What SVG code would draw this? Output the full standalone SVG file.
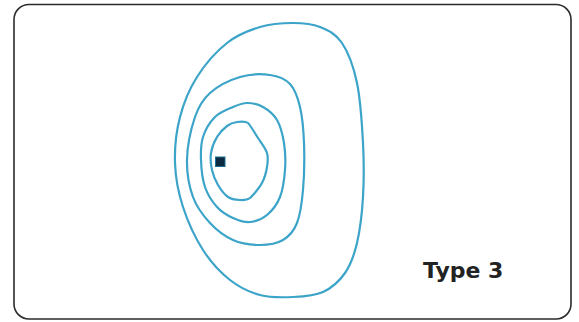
<svg xmlns="http://www.w3.org/2000/svg" width="579" height="322" viewBox="0 0 579 322">
<style>
.frame{fill:#ffffff;stroke:#2b2b2b;stroke-width:1.6}
.contour{fill:none;stroke:#3ba4c8;stroke-width:2.2;stroke-linejoin:round}
.label{font-family:"DejaVu Sans",Verdana,sans-serif;font-weight:bold;font-size:22px;fill:#222222}
</style>
<rect width="579" height="322" fill="#ffffff"/>
<g id="frame"><rect class="frame" x="14" y="4.5" width="557" height="314.5" rx="15" ry="15"/></g>
<g id="contours">
<path id="c1" class="contour" d="M293,23 C303,23 311.8,23.7 320,27 S335.8,33.7 342,43 S353.5,66.3 357,83 S362,124 363,143 S364,180.3 363,197 S360,230.3 357,243 S350.7,264.8 345,273 S331.7,288 323,292 S303.5,296.5 293,297 S270.5,297.8 260,295 S239.5,287.5 230,280 S210.8,262.2 203,250 S187.7,221.5 183,207 S175.5,178 175,163 S176.3,131.3 180,117 S189.2,89.3 197,77 S216.5,51.3 227,43 S249,30.3 260,27 S283,23 293,23 Z"/>
<path id="c2" class="contour" d="M270,75 C278.3,76.2 285,78.7 290,84 S297.7,97.2 300,107 S303.5,129.2 304,143 S304.2,176.7 303,190 S300.3,214.7 297,223 S289.2,236.3 283,240 S268.3,245 260,245 S241.3,243.7 233,240 S216.7,230.2 210,223 S196.8,207.5 193,197 S186.7,173.3 187,160 S191.2,128.2 195,117 S202.5,99.7 210,93 S230,80 240,77 S261.7,73.8 270,75 Z"/>
<path id="c3" class="contour" d="M247,103 C252,103 258,104.2 263,107 S273.5,114 277,120 S282.7,134.7 284,143 S285.7,161 285,170 S283,189.5 280,197 S272,210.8 267,215 S255.7,221.5 250,222 S238.5,220.5 233,218 S221.7,212.2 217,207 S207.7,194.8 205,187 S201.3,168.3 201,160 S200.7,144.2 203,137 S210,122 215,117 S227.7,109.3 233,107 S242,103 247,103 Z"/>
<path id="c4" class="contour" d="M237,122 C240.5,121.5 246.3,121.7 248,123 S254.8,133 258,138 S265.5,148.2 267,153 S267.8,162 267,167 S264.8,177.8 262,183 S251.8,196.6 250,198 S243.7,200.2 240,200 S231.7,199.5 228,197 S220.7,189.5 218,185 S213.2,175.3 212,170 S210.2,158.5 211,153 S214.3,141.5 217,137 S223.7,128.5 227,126 S233.5,122.5 237,122 Z"/>
</g>
<g id="marker"><rect x="215.5" y="157" width="9.5" height="9.5" fill="#0c2b40" stroke="#1f6f93" stroke-width="1"/></g>
<g id="title"><text class="label" x="423" y="278">Type 3</text></g>
</svg>
